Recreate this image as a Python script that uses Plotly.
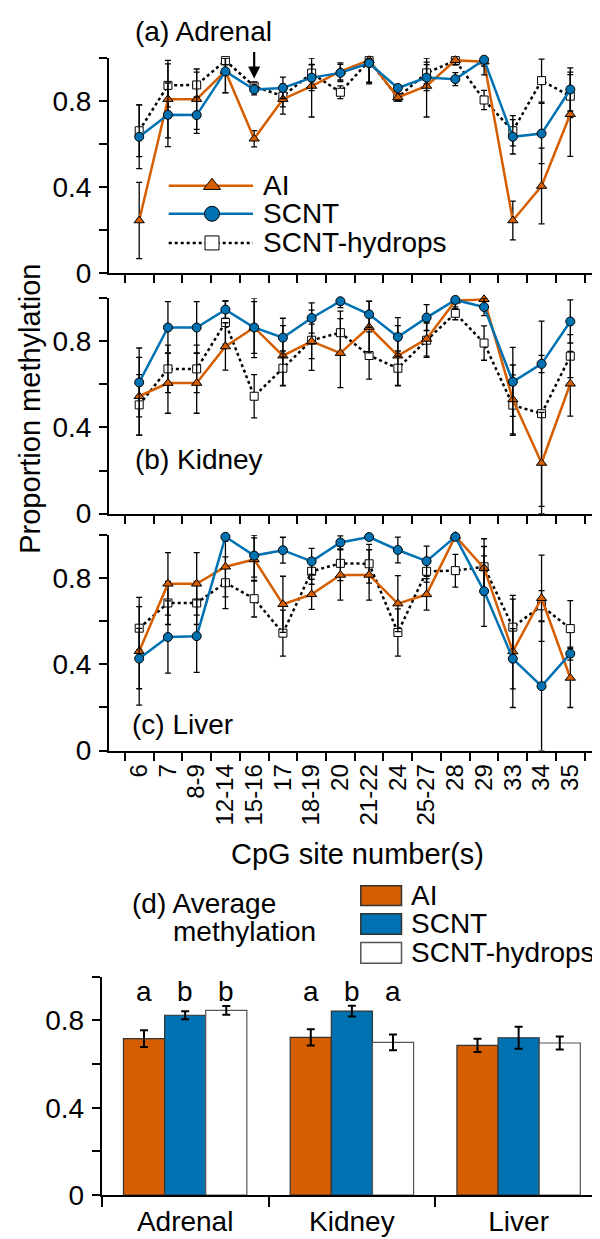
import plotly.graph_objects as go

# ---------------- data ----------------
sites = ["6", "7", "8-9", "12-14", "15-16", "17", "18-19", "20", "21-22",
         "24", "25-27", "28", "29", "33", "34", "35"]

ai_adrenal = [0.245, 0.809, 0.809, 0.939, 0.625, 0.809, 0.870, 0.938, 0.990, 0.817,
              0.870, 0.990, 0.983, 0.245, 0.405, 0.739]
scnt_adrenal = [0.634, 0.736, 0.735, 0.938, 0.854, 0.861, 0.909, 0.931, 0.976, 0.861,
                0.909, 0.902, 0.992, 0.634, 0.649, 0.854]
hyd_adrenal = [0.662, 0.873, 0.875, 0.988, 0.869, 0.823, 0.930, 0.841, 0.988, 0.817,
               0.931, 0.988, 0.805, 0.662, 0.895, 0.823]
err_ai_adrenal = [0.177, 0.18, 0.14, 0.10, 0.038, 0.07, 0.144, 0.04, 0.11, 0.015,
                  0.144, 0.02, 0.02, 0.09, 0.176, 0.196]
err_scnt_adrenal = [0.148, 0.148, 0.085, 0.10, 0.025, 0.05, 0.06, 0.04, 0.09, 0.015,
                    0.06, 0.03, 0.07, 0.08, 0.14, 0.10]
err_hyd_adrenal = [0.12, 0.10, 0.06, 0.02, 0.02, 0.05, 0.04, 0.03, 0.10, 0.015,
                   0.05, 0.02, 0.045, 0.07, 0.10, 0.10]

ai_kidney = [0.545, 0.606, 0.606, 0.776, 0.864, 0.733, 0.800, 0.745, 0.866, 0.733,
             0.811, 0.988, 0.995, 0.530, 0.235, 0.603]
scnt_kidney = [0.609, 0.864, 0.864, 0.947, 0.864, 0.817, 0.908, 0.986, 0.925, 0.820,
               0.910, 0.992, 0.959, 0.612, 0.695, 0.892]
hyd_kidney = [0.505, 0.672, 0.672, 0.887, 0.545, 0.675, 0.805, 0.840, 0.734, 0.675,
              0.805, 0.930, 0.792, 0.504, 0.464, 0.731]
err_ai_kidney = [0.18, 0.14, 0.14, 0.11, 0.14, 0.14, 0.08, 0.16, 0.12, 0.14,
                 0.08, 0.04, 0.01, 0.16, 0.235, 0.15]
err_scnt_kidney = [0.16, 0.12, 0.12, 0.04, 0.12, 0.09, 0.07, 0.03, 0.06, 0.09,
                   0.06, 0.04, 0.04, 0.16, 0.04, 0.10]
err_hyd_kidney = [0.14, 0.11, 0.11, 0.10, 0.10, 0.08, 0.14, 0.10, 0.11, 0.08,
                  0.08, 0.03, 0.08, 0.14, 0.43, 0.10]

ai_liver = [0.461, 0.774, 0.774, 0.853, 0.887, 0.679, 0.725, 0.815, 0.815, 0.682,
            0.725, 0.995, 0.847, 0.460, 0.707, 0.337]
scnt_liver = [0.427, 0.527, 0.531, 0.992, 0.905, 0.930, 0.878, 0.966, 0.991, 0.931,
              0.879, 0.992, 0.740, 0.426, 0.299, 0.450]
hyd_liver = [0.568, 0.685, 0.685, 0.779, 0.705, 0.545, 0.832, 0.869, 0.867, 0.548,
             0.832, 0.835, 0.853, 0.573, 0.672, 0.566]
err_ai_liver = [0.25, 0.145, 0.145, 0.14, 0.10, 0.13, 0.07, 0.117, 0.117, 0.13,
                0.073, 0.01, 0.10, 0.26, 0.20, 0.137]
err_scnt_liver = [0.14, 0.168, 0.168, 0.02, 0.10, 0.06, 0.06, 0.03, 0.01, 0.06,
                  0.07, 0.01, 0.164, 0.14, 0.299, 0.03]
err_hyd_liver = [0.10, 0.10, 0.10, 0.12, 0.085, 0.107, 0.06, 0.08, 0.09, 0.11,
                 0.05, 0.076, 0.13, 0.13, 0.07, 0.13]

tissues = ["Adrenal", "Kidney", "Liver"]
avg_ai = [0.717, 0.723, 0.686]
avg_ai_err = [0.038, 0.037, 0.030]
avg_scnt = [0.824, 0.843, 0.721]
avg_scnt_err = [0.018, 0.025, 0.050]
avg_hyd = [0.846, 0.700, 0.697]
avg_hyd_err = [0.020, 0.036, 0.030]
letters_ai = ["a", "a", ""]
letters_scnt = ["b", "b", ""]
letters_hyd = ["b", "a", ""]

series_names = ["AI", "SCNT", "SCNT-hydrops"]
y_tickvals = [0, 0.2, 0.4, 0.6, 0.8, 1.0]
y_ticktext = ["0", "", "0.4", "", "0.8", ""]

# ---------------- style ----------------
FONT = "Liberation Sans, Arial, sans-serif"
ORANGE = "#D55E00"
BLUE = "#0072B2"
W, H = 600, 1239

styles = {
    "AI": dict(line=dict(color=ORANGE, width=2.5),
               marker=dict(symbol="triangle-up", size=9, color=ORANGE,
                           line=dict(color="black", width=1))),
    "SCNT": dict(line=dict(color=BLUE, width=2.5),
                 marker=dict(symbol="circle", size=9, color=BLUE,
                             line=dict(color="black", width=1))),
    "SCNT-hydrops": dict(line=dict(color="black", width=2.5, dash="dot"),
                         marker=dict(symbol="square", size=8, color="white",
                                     line=dict(color="black", width=1))),
}

fig = go.Figure()

panels = [
    ("x", "y", [(hyd_adrenal, err_hyd_adrenal, "SCNT-hydrops"),
                (ai_adrenal, err_ai_adrenal, "AI"),
                (scnt_adrenal, err_scnt_adrenal, "SCNT")]),
    ("x2", "y2", [(hyd_kidney, err_hyd_kidney, "SCNT-hydrops"),
                  (ai_kidney, err_ai_kidney, "AI"),
                  (scnt_kidney, err_scnt_kidney, "SCNT")]),
    ("x3", "y3", [(hyd_liver, err_hyd_liver, "SCNT-hydrops"),
                  (ai_liver, err_ai_liver, "AI"),
                  (scnt_liver, err_scnt_liver, "SCNT")]),
]

for xa, ya, series in panels:
    for vals, errs, name in series:
        plus = [min(e, 1.0 - v) for v, e in zip(vals, errs)]
        minus = [min(e, v) for v, e in zip(vals, errs)]
        fig.add_trace(go.Scatter(
            x=sites, y=vals, xaxis=xa, yaxis=ya, mode="lines+markers",
            name=name, showlegend=False, cliponaxis=False,
            line=styles[name]["line"], marker=styles[name]["marker"],
            error_y=dict(type="data", symmetric=False, array=plus, arrayminus=minus,
                         color="black", thickness=1.3, width=3),
        ))

# bar chart (d)
bar_colors = [ORANGE, BLUE, "white"]
bar_lines = ["#333333", "#333333", "#555555"]
for vals, errs, name, col, lc in zip([avg_ai, avg_scnt, avg_hyd],
                                     [avg_ai_err, avg_scnt_err, avg_hyd_err],
                                     series_names, bar_colors, bar_lines):
    fig.add_trace(go.Bar(
        x=tissues, y=vals, xaxis="x4", yaxis="y4", name=name, showlegend=False,
        marker=dict(color=col, line=dict(color=lc, width=1.2)),
        error_y=dict(type="data", array=errs, color="black", thickness=2, width=4),
    ))

# overlay pixel axis for legends / labels
def px_trace(x, y, **kw):
    fig.add_trace(go.Scatter(x=x, y=y, xaxis="x5", yaxis="y5", showlegend=False,
                             hoverinfo="skip", **kw))

leg_rows = [180, 208.5, 238]
for name, yr in zip(series_names, leg_rows):
    px_trace([160.7, 245], [yr, yr], mode="lines", line=styles[name]["line"])
    mk = dict(styles[name]["marker"])
    mk["size"] = 15 if name != "SCNT-hydrops" else 14
    px_trace([204], [yr], mode="markers", marker=mk)

annotations = []
def px_text(x, y, text, size=28, xanchor="left", **kw):
    annotations.append(dict(x=x, y=y, xref="x5", yref="y5", text=text,
                            showarrow=False, xanchor=xanchor, yanchor="middle",
                            font=dict(family=FONT, size=size, color="black"), **kw))

for name, yr in zip(series_names, leg_rows):
    px_text(252.6, yr, name)

px_text(125, 24, "(a) Adrenal")
px_text(125, 457, "(b) Kidney")
px_text(121.7, 726, "(c) Liver")
px_text(121.7, 907, "(d) Average")
px_text(162.6, 936, "methylation")
px_text(22, 406, "Proportion methylation", size=29, xanchor="center", textangle=-90)
px_text(349, 857, "CpG site number(s)", size=29, xanchor="center")

# bar legend
shapes = []
bar_leg_rows = [(889.3, 909.3), (917.5, 938.3), (946.7, 967.7)]
for name, col, lc, (y0, y1) in zip(series_names, bar_colors, bar_lines, bar_leg_rows):
    shapes.append(dict(type="rect", xref="x5", yref="y5", x0=352.8, x1=393.5,
                       y0=y0, y1=y1, fillcolor=col, line=dict(color=lc, width=1.5)))
    px_text(401, (y0 + y1) / 2, name)

# arrow in panel (a)
annotations.append(dict(x="15-16", y=0.905, xref="x", yref="y", text="",
                        showarrow=True, ax=0, ay=-28, arrowhead=2, arrowsize=1.1,
                        arrowwidth=2.2, arrowcolor="black"))

# significance letters
bar_domain = [0.1563, 0.99]
bargap = 0.26
bar_px = (bar_domain[1] - bar_domain[0]) * W / len(tissues) * (1 - bargap) / 3
for j, letters in enumerate([letters_ai, letters_scnt, letters_hyd]):
    for t, lab in zip(tissues, letters):
        if lab:
            annotations.append(dict(x=t, y=0.932, xref="x4", yref="y4", text=lab,
                                    showarrow=False, xshift=(j - 1) * bar_px,
                                    yanchor="middle",
                                    font=dict(family=FONT, size=28, color="black")))

def yaxis(domain):
    return dict(domain=domain, range=[0, 1], tickmode="array",
                tickvals=y_tickvals, ticktext=y_ticktext,
                ticks="outside", ticklen=8, tickwidth=2, tickcolor="black",
                ticklabelstandoff=2,
                showline=True, linewidth=2, linecolor="black", showgrid=False,
                zeroline=False, tickfont=dict(family=FONT, size=28, color="black"),
                fixedrange=True)

def xaxis(domain, anchor, labels, cats):
    d = dict(domain=domain, anchor=anchor, type="category", tickson="boundaries",
             tickmode="array", tickvals=cats, ticktext=cats,
             ticks="outside", ticklen=8, tickwidth=2, tickcolor="black",
             showline=True, linewidth=2, linecolor="black", showgrid=False,
             zeroline=False, showticklabels=labels, fixedrange=True,
             tickfont=dict(family=FONT, size=24, color="black"))
    return d

line_dom = [101 / W, 592.5 / W]
def ydom(p0, p1):
    return [1 - p0 / H, 1 - p1 / H]

xa3 = xaxis(line_dom, "y3", True, sites)
xa3["tickangle"] = -90
xa3["ticklabelstandoff"] = 2
xa4 = xaxis(bar_domain, "y4", True, tissues)
xa4["tickfont"] = dict(family=FONT, size=28, color="black")
xa4["ticklen"] = 10

fig.update_layout(
    width=W, height=H, autosize=False,
    margin=dict(l=0, r=0, t=0, b=0),
    paper_bgcolor="white", plot_bgcolor="rgba(0,0,0,0)",
    showlegend=False,
    font=dict(family=FONT, color="black"),
    barmode="group", bargap=bargap, bargroupgap=0,
    xaxis=xaxis(line_dom, "y", False, sites),
    yaxis=dict(yaxis(ydom(268.7, 50.7)), anchor="x"),
    xaxis2=xaxis(line_dom, "y2", False, sites),
    yaxis2=dict(yaxis(ydom(512.3, 294)), anchor="x2"),
    xaxis3=xa3,
    yaxis3=dict(yaxis(ydom(752.3, 534)), anchor="x3"),
    xaxis4=xa4,
    yaxis4=dict(yaxis(ydom(1202.7, 981.5)), anchor="x4"),
    xaxis5=dict(domain=[0, 1], range=[0, W], visible=False, fixedrange=True,
                anchor="y5"),
    yaxis5=dict(domain=[0, 1], range=[H, 0], visible=False, fixedrange=True,
                anchor="x5"),
    annotations=annotations,
    shapes=shapes,
)

fig.write_html("out.html")
